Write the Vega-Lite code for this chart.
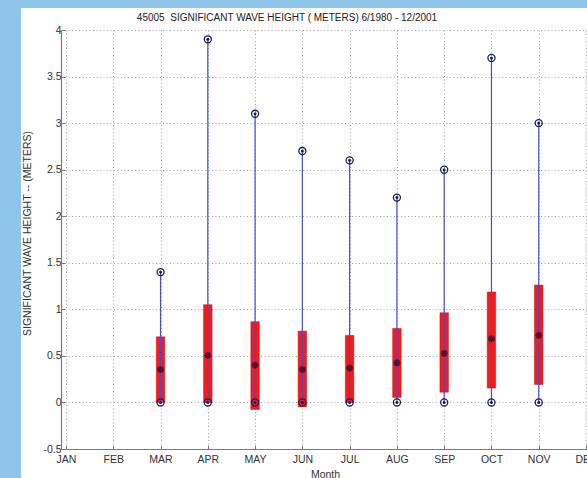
{
  "$schema": "https://vega.github.io/schema/vega-lite/v6.json",
  "autosize": {"type": "none"},
  "padding": {"left": 61, "top": 30, "right": 0, "bottom": 29},
  "width": 530,
  "height": 419,
  "background": "white",
  "title": {
    "text": "45005\u00a0 SIGNIFICANT WAVE HEIGHT ( METERS) 6/1980 - 12/2001",
    "frame": "group",
    "anchor": "middle",
    "dx": -39,
    "offset": -30,
    "font": "Liberation Sans",
    "fontSize": 10,
    "fontWeight": "normal",
    "color": "#222222"
  },
  "config": {
    "view": {"stroke": null},
    "axis": {
      "labelFont": "Liberation Sans",
      "labelFontSize": 10.5,
      "labelColor": "#333333",
      "titleFont": "Liberation Sans",
      "titleFontSize": 10.5,
      "titleFontWeight": "normal",
      "titleColor": "#333333",
      "domainColor": "#7a7a7a",
      "domainWidth": 1.2,
      "tickColor": "#7a7a7a",
      "tickSize": -4,
      "gridColor": "#a0a0a0",
      "gridDash": [1, 2.5],
      "gridWidth": 1
    }
  },
  "data": {
    "values": [
      {"month": 3, "max": 1.4, "min": 0, "lo": 0.0, "hi": 0.705, "mean": 0.354},
      {"month": 4, "max": 3.9, "min": 0, "lo": 0.0, "hi": 1.05, "mean": 0.505},
      {"month": 5, "max": 3.1, "min": 0, "lo": -0.075, "hi": 0.867, "mean": 0.4},
      {"month": 6, "max": 2.7, "min": 0, "lo": -0.047, "hi": 0.766, "mean": 0.354},
      {"month": 7, "max": 2.6, "min": 0, "lo": 0.0, "hi": 0.72, "mean": 0.37},
      {"month": 8, "max": 2.2, "min": 0, "lo": 0.054, "hi": 0.795, "mean": 0.426},
      {"month": 9, "max": 2.5, "min": 0, "lo": 0.11, "hi": 0.963, "mean": 0.526},
      {"month": 10, "max": 3.7, "min": 0, "lo": 0.154, "hi": 1.185, "mean": 0.684},
      {"month": 11, "max": 3.0, "min": 0, "lo": 0.193, "hi": 1.26, "mean": 0.72}
    ]
  },
  "layer": [
    {
      "mark": {"type": "rect", "fill": "#90c5ea", "clip": false},
      "encoding": {
        "x": {"datum": -0.5, "type": "quantitative", "scale": {"domain": [1, 12], "nice": false, "zero": false},
          "axis": {
            "values": [1,2,3,4,5,6,7,8,9,10,11,12],
            "labelExpr": "['JAN','FEB','MAR','APR','MAY','JUN','JUL','AUG','SEP','OCT','NOV','DEC'][datum.value-1]",
            "grid": true,
            "labelPadding": 9,
            "labelFlush": false,
            "labelOverlap": false,
            "title": "Month",
            "titleX": 264,
            "titleY": 20,
            "titleBaseline": "top"
          }},
        "x2": {"datum": 0.045},
        "y": {"datum": 4.4, "type": "quantitative", "scale": {"domain": [-0.5, 4], "nice": false, "zero": false},
          "axis": {
            "values": [-0.5,0,0.5,1,1.5,2,2.5,3,3.5,4],
            "labelExpr": "datum.value + ''",
            "grid": true,
            "labelPadding": 4,
            "labelFlush": false,
            "labelOverlap": false,
            "title": "SIGNIFICANT WAVE HEIGHT -- (METERS)",
            "titleX": -34,
            "titleY": 203,
            "titleBaseline": "middle"
          }},
        "y2": {"datum": -1.5}
      }
    },
    {
      "mark": {"type": "rect", "fill": "#90c5ea", "clip": false},
      "encoding": {
        "x": {"datum": -0.5, "type": "quantitative"},
        "x2": {"datum": 12.6},
        "y": {"datum": 4.4, "type": "quantitative"},
        "y2": {"datum": 4.236}
      }
    },
    {
      "mark": {"type": "bar", "color": "#f11c1c", "size": 8.5, "stroke": "#d01010", "strokeWidth": 0.5},
      "encoding": {
        "x": {"field": "month", "type": "quantitative"},
        "y": {"field": "lo", "type": "quantitative"},
        "y2": {"field": "hi"}
      }
    },
    {
      "mark": {"type": "rule", "color": "#4a4ad2", "strokeWidth": 1.2},
      "encoding": {
        "x": {"field": "month", "type": "quantitative"},
        "y": {"field": "min", "type": "quantitative"},
        "y2": {"field": "max"}
      }
    },
    {
      "mark": {"type": "point", "shape": "M-1,0L1,0M0,-1L0,1M-0.7,-0.7L0.7,0.7M-0.7,0.7L0.7,-0.7", "filled": false, "color": "#3a1030", "strokeWidth": 1.8, "size": 50, "opacity": 0.85},
      "encoding": {
        "x": {"field": "month", "type": "quantitative"},
        "y": {"field": "mean", "type": "quantitative"}
      }
    },
    {
      "transform": [{"fold": ["max", "min"], "as": ["stat", "val"]}],
      "mark": {"type": "point", "shape": "circle", "filled": false, "color": "#1c1c5a", "strokeWidth": 1.3, "size": 50, "opacity": 1},
      "encoding": {
        "x": {"field": "month", "type": "quantitative"},
        "y": {"field": "val", "type": "quantitative"}
      }
    },
    {
      "transform": [{"fold": ["max", "min"], "as": ["stat", "val"]}],
      "mark": {"type": "point", "shape": "circle", "filled": true, "color": "#1c1c40", "size": 9, "opacity": 1},
      "encoding": {
        "x": {"field": "month", "type": "quantitative"},
        "y": {"field": "val", "type": "quantitative"}
      }
    }
  ]
}
